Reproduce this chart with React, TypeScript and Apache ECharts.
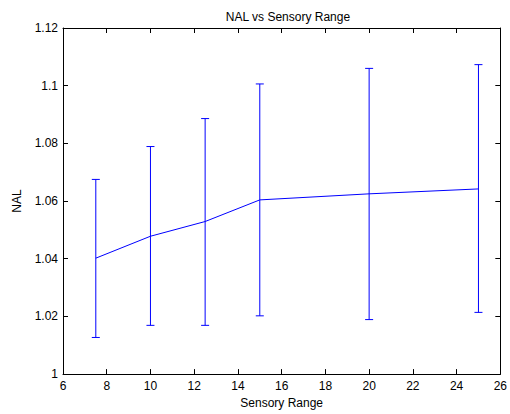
import React, { useEffect, useRef } from "react";
import * as echarts from "echarts";

const xValues = [7.5, 10, 12.5, 15, 20, 25];
const meanValues = [1.0402, 1.0478, 1.0529, 1.0604, 1.0625, 1.0642];
const upperValues = [1.0675, 1.0789, 1.0886, 1.1006, 1.106, 1.1073];
const lowerValues = [1.0127, 1.0169, 1.0169, 1.0202, 1.0189, 1.0214];

const FONT = "'Liberation Sans', Arial, Helvetica, sans-serif";
const BLUE = "#0000ff";

export default function App() {
  const ref = useRef<HTMLDivElement>(null);
  useEffect(() => {
    const chart = echarts.init(ref.current!, null, { renderer: "svg" });
    const axisCommon = {
      axisLine: { show: true, onZero: false, lineStyle: { color: "#000", width: 1 } },
      axisTick: { show: true, inside: true, length: 5, lineStyle: { color: "#000" } },
      splitLine: { show: false },
    };
    chart.setOption({
      animation: false,
      backgroundColor: "#fff",
      textStyle: { fontFamily: FONT },
      title: {
        text: "NAL vs Sensory Range",
        left: 283,
        textAlign: "center",
        top: 6,
        textStyle: { fontSize: 12, fontWeight: "normal", color: "#000", fontFamily: FONT },
      },
      grid: { left: 63, right: 7, top: 28, bottom: 39 },
      xAxis: [
        {
          type: "value",
          min: 6,
          max: 26,
          interval: 2,
          position: "bottom",
          ...axisCommon,
          axisLabel: { color: "#000", fontSize: 12, margin: 6, fontFamily: FONT },
          name: "Sensory Range",
          nameLocation: "middle",
          nameGap: 22,
          nameTextStyle: { color: "#000", fontSize: 12, fontFamily: FONT },
        },
        {
          type: "value",
          min: 6,
          max: 26,
          interval: 2,
          position: "top",
          ...axisCommon,
          axisLabel: { show: false },
        },
      ],
      yAxis: [
        {
          type: "value",
          min: 1,
          max: 1.12,
          interval: 0.02,
          position: "left",
          ...axisCommon,
          axisLabel: { color: "#000", fontSize: 12, margin: 5, fontFamily: FONT },
          name: "NAL",
          nameLocation: "middle",
          nameGap: 40,
          nameTextStyle: { color: "#000", fontSize: 12, fontFamily: FONT },
        },
        {
          type: "value",
          min: 1,
          max: 1.12,
          interval: 0.02,
          position: "right",
          ...axisCommon,
          axisLabel: { show: false },
        },
      ],
      series: [
        {
          type: "custom",
          xAxisIndex: 0,
          yAxisIndex: 0,
          data: xValues.map((x, i) => [x, lowerValues[i], upperValues[i]]),
          renderItem: (params: any, api: any) => {
            const x = api.value(0);
            const lo = api.coord([x, api.value(1)]);
            const hi = api.coord([x, api.value(2)]);
            const w = 4;
            const style = { stroke: BLUE, lineWidth: 1, fill: "none" };
            return {
              type: "group",
              children: [
                { type: "line", shape: { x1: lo[0], y1: lo[1], x2: hi[0], y2: hi[1] }, style },
                { type: "line", shape: { x1: lo[0] - w, y1: lo[1], x2: lo[0] + w, y2: lo[1] }, style },
                { type: "line", shape: { x1: hi[0] - w, y1: hi[1], x2: hi[0] + w, y2: hi[1] }, style },
              ],
            };
          },
          z: 2,
        },
        {
          type: "line",
          xAxisIndex: 0,
          yAxisIndex: 0,
          data: xValues.map((x, i) => [x, meanValues[i]]),
          showSymbol: false,
          symbol: "none",
          lineStyle: { color: BLUE, width: 1 },
          itemStyle: { color: BLUE },
          z: 3,
        },
      ],
    });
    return () => chart.dispose();
  }, []);
  return (
    <div
      ref={ref}
      style={{ position: "fixed", left: 0, top: 0, width: 510, height: 414 }}
    />
  );
}
